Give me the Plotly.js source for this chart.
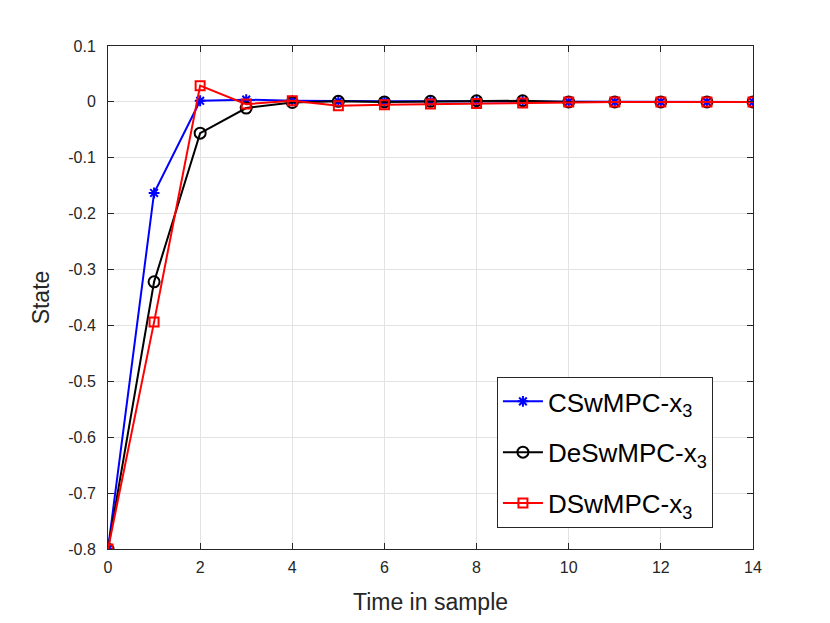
<!DOCTYPE html>
<html><head><meta charset="utf-8">
<script src="https://cdn.plot.ly/plotly-3.0.1.min.js"></script>
<style>body{margin:0;background:#fff}#c{width:830px;height:623px}</style>
</head><body><div id="c"></div>
<script>
const samples = [0,1,2,3,4,5,6,7,8,9,10,11,12,13,14];
const cswmpc = [-0.8,-0.163,0.002,0.004,0.002,0.001,0.001,0.001,0.001,0.001,0.0,0.0,0.0,0.0,0.0];
const deswmpc = [-0.8,-0.322,-0.056,-0.011,-0.001,0.001,0.0,0.001,0.002,0.002,0.0,0.0,0.0,0.0,0.0];
const dswmpc = [-0.8,-0.394,0.029,-0.004,0.002,-0.007,-0.005,-0.004,-0.003,-0.002,0.0,0.0,0.0,0.0,0.0];
const seriesNames = ['CSwMPC-x<sub>3</sub>','DeSwMPC-x<sub>3</sub>','DSwMPC-x<sub>3</sub>'];
const xTicks = [0,2,4,6,8,10,12,14];
const yTicks = [-0.8,-0.7,-0.6,-0.5,-0.4,-0.3,-0.2,-0.1,0,0.1];
const yTickText = ['-0.8','-0.7','-0.6','-0.5','-0.4','-0.3','-0.2','-0.1','0','0.1'];

const traces = [
  {x:samples,y:cswmpc,name:seriesNames[0],legendgroup:'a',mode:'lines+markers',line:{color:'#0000ff',width:2},marker:{symbol:'asterisk-open',size:9,color:'#0000ff',line:{color:'#0000ff',width:2}}},
  {x:samples,y:deswmpc,name:seriesNames[1],legendgroup:'b',mode:'lines+markers',line:{color:'#000000',width:2},marker:{symbol:'circle-open',size:11,color:'#000000',line:{color:'#000000',width:2}}},
  {x:samples,y:dswmpc,name:seriesNames[2],legendgroup:'c',mode:'lines+markers',line:{color:'#ff0000',width:2},marker:{symbol:'square-open',size:9,color:'#ff0000',line:{color:'#ff0000',width:2}}}
];
const axisCommon = {showline:true,linecolor:'#262626',linewidth:1,mirror:'ticks',ticks:'inside',ticklen:6,tickcolor:'#262626',showgrid:true,gridcolor:'#e3e3e3',gridwidth:1,zeroline:false,tickfont:{size:16,color:'#262626'}};
const layout = {
  width:830,height:623,
  margin:{l:108,r:77,t:46,b:74},
  paper_bgcolor:'#fff',plot_bgcolor:'#fff',
  font:{family:'Liberation Sans, Arial, sans-serif',color:'#262626'},
  xaxis:Object.assign({},axisCommon,{range:[0,14],tickvals:xTicks,ticktext:xTicks.map(String),ticklabelstandoff:4,title:{text:'Time in sample',font:{size:23,color:'#262626'},standoff:18}}),
  yaxis:Object.assign({},axisCommon,{range:[-0.8,0.1],tickvals:yTicks,ticktext:yTickText,ticklabelstandoff:8,title:{text:'State',font:{size:23,color:'#262626'},standoff:12}}),
  showlegend:true,
  legend:{x:0.603,y:0.342,xanchor:'left',yanchor:'top',bgcolor:'#fff',bordercolor:'#262626',borderwidth:1,font:{size:26,color:'#000'},tracegroupgap:14,itemwidth:40,traceorder:'grouped'}
};
Plotly.newPlot('c',traces,layout,{displayModeBar:false,staticPlot:true});
</script></body></html>
